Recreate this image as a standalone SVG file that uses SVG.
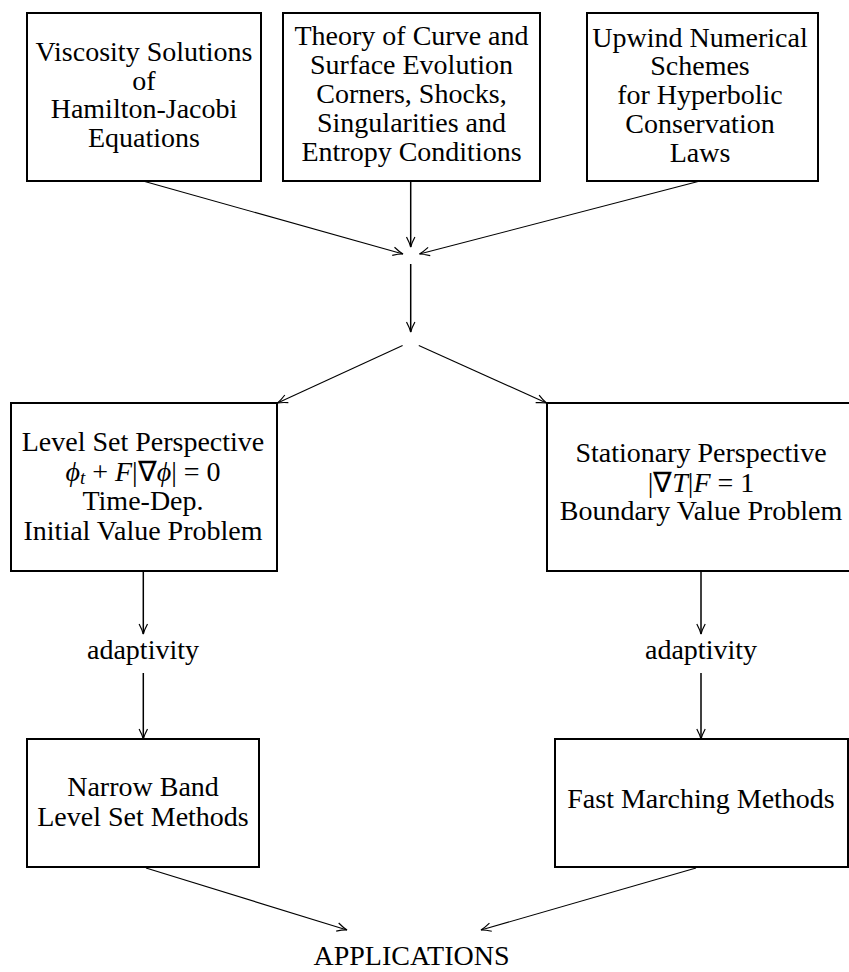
<svg xmlns="http://www.w3.org/2000/svg" width="849" height="972" viewBox="0 0 849 972">
<defs>
<style>
.box{fill:#fff;stroke:#000;stroke-width:2}
.c{fill:none;stroke:#000;stroke-width:1.5}
.d{fill:none;stroke:#000;stroke-width:1.1}
</style>
<marker id="ah" markerUnits="userSpaceOnUse" markerWidth="16" markerHeight="12" viewBox="-12 -6 14 12" refX="0" refY="0" orient="auto">
<path d="M-10,-4.2 Q-4,-1 0,0 Q-4,1 -10,4.2" fill="none" stroke="#000" stroke-width="1.2"/>
</marker>
</defs>
<rect width="849" height="972" fill="#fff"/>

<g id="n-viscosity">
<rect class="box" x="27" y="13" width="234" height="168"/>
<text x="144" y="61" font-family="Liberation Serif" font-size="28" text-anchor="middle">Viscosity Solutions</text>
<text x="144" y="90" font-family="Liberation Serif" font-size="28" text-anchor="middle">of</text>
<text x="144" y="118" font-family="Liberation Serif" font-size="28" text-anchor="middle">Hamilton-Jacobi</text>
<text x="144" y="147" font-family="Liberation Serif" font-size="28" text-anchor="middle">Equations</text>
</g>

<g id="n-theory">
<rect class="box" x="283" y="13" width="257" height="168"/>
<text x="411.5" y="45" font-family="Liberation Serif" font-size="28" text-anchor="middle">Theory of Curve and</text>
<text x="411.5" y="74" font-family="Liberation Serif" font-size="28" text-anchor="middle">Surface Evolution</text>
<text x="411.5" y="103" font-family="Liberation Serif" font-size="28" text-anchor="middle">Corners, Shocks,</text>
<text x="411.5" y="132" font-family="Liberation Serif" font-size="28" text-anchor="middle">Singularities and</text>
<text x="411.5" y="161" font-family="Liberation Serif" font-size="28" text-anchor="middle">Entropy Conditions</text>
</g>

<g id="n-upwind">
<rect class="box" x="587" y="13" width="231" height="168"/>
<text x="700" y="47" font-family="Liberation Serif" font-size="28" text-anchor="middle">Upwind Numerical</text>
<text x="700" y="75" font-family="Liberation Serif" font-size="28" text-anchor="middle">Schemes</text>
<text x="700" y="104" font-family="Liberation Serif" font-size="28" text-anchor="middle">for Hyperbolic</text>
<text x="700" y="133" font-family="Liberation Serif" font-size="28" text-anchor="middle">Conservation</text>
<text x="700" y="162" font-family="Liberation Serif" font-size="28" text-anchor="middle">Laws</text>
</g>

<g id="n-levelset">
<rect class="box" x="11" y="403" width="266" height="168"/>
<text x="143" y="451" font-family="Liberation Serif" font-size="28" text-anchor="middle">Level Set Perspective</text>
<text x="143" y="481" font-family="Liberation Serif" font-size="28" text-anchor="middle"><tspan font-style="italic">ϕ</tspan><tspan font-style="italic" font-size="19" dy="3">t</tspan><tspan dy="-3"> + </tspan><tspan font-style="italic">F</tspan>|∇<tspan font-style="italic">ϕ</tspan>| = 0</text>
<text x="143" y="510" font-family="Liberation Serif" font-size="28" text-anchor="middle">Time-Dep.</text>
<text x="143" y="540" font-family="Liberation Serif" font-size="28" text-anchor="middle">Initial Value Problem</text>
</g>

<g id="n-stationary">
<rect class="box" x="547" y="403" width="310" height="168"/>
<text x="701" y="462" font-family="Liberation Serif" font-size="28" text-anchor="middle">Stationary Perspective</text>
<text x="701" y="492" font-family="Liberation Serif" font-size="28" text-anchor="middle">|∇<tspan font-style="italic">T</tspan>|<tspan font-style="italic">F</tspan> = 1</text>
<text x="701" y="520" font-family="Liberation Serif" font-size="28" text-anchor="middle">Boundary Value Problem</text>
</g>

<g id="n-adapt-left">
<text x="143" y="659" font-family="Liberation Serif" font-size="28" text-anchor="middle">adaptivity</text>
</g>

<g id="n-adapt-right">
<text x="701" y="659" font-family="Liberation Serif" font-size="28" text-anchor="middle">adaptivity</text>
</g>

<g id="n-narrowband">
<rect class="box" x="27" y="739" width="232" height="128"/>
<text x="143" y="796" font-family="Liberation Serif" font-size="28" text-anchor="middle">Narrow Band</text>
<text x="143" y="826" font-family="Liberation Serif" font-size="28" text-anchor="middle">Level Set Methods</text>
</g>

<g id="n-fastmarching">
<rect class="box" x="555" y="739" width="293" height="128"/>
<text x="701" y="808" font-family="Liberation Serif" font-size="28" text-anchor="middle">Fast Marching Methods</text>
</g>

<g id="n-applications">
<text x="411.5" y="965" font-family="Liberation Serif" font-size="28" text-anchor="middle">APPLICATIONS</text>
</g>

<g id="connectors">
<line class="d" x1="143" y1="181" x2="403" y2="254" marker-end="url(#ah)"/>
<line class="c" x1="410.7" y1="181" x2="410.7" y2="247" marker-end="url(#ah)"/>
<line class="d" x1="700" y1="181" x2="419.5" y2="254" marker-end="url(#ah)"/>
<line class="c" x1="410.7" y1="264" x2="410.7" y2="332" marker-end="url(#ah)"/>
<line class="d" x1="402.6" y1="345.4" x2="277.5" y2="403" marker-end="url(#ah)"/>
<line class="d" x1="418.8" y1="345.4" x2="546.5" y2="403" marker-end="url(#ah)"/>
<line class="c" x1="143.3" y1="571" x2="143.3" y2="634" marker-end="url(#ah)"/>
<line class="c" x1="143.3" y1="673" x2="143.3" y2="739" marker-end="url(#ah)"/>
<line class="c" x1="701" y1="571" x2="701" y2="634" marker-end="url(#ah)"/>
<line class="c" x1="701" y1="673" x2="701" y2="739" marker-end="url(#ah)"/>
<line class="d" x1="146" y1="868" x2="347" y2="930" marker-end="url(#ah)"/>
<line class="d" x1="696" y1="868" x2="481" y2="930" marker-end="url(#ah)"/>
</g>
</svg>
